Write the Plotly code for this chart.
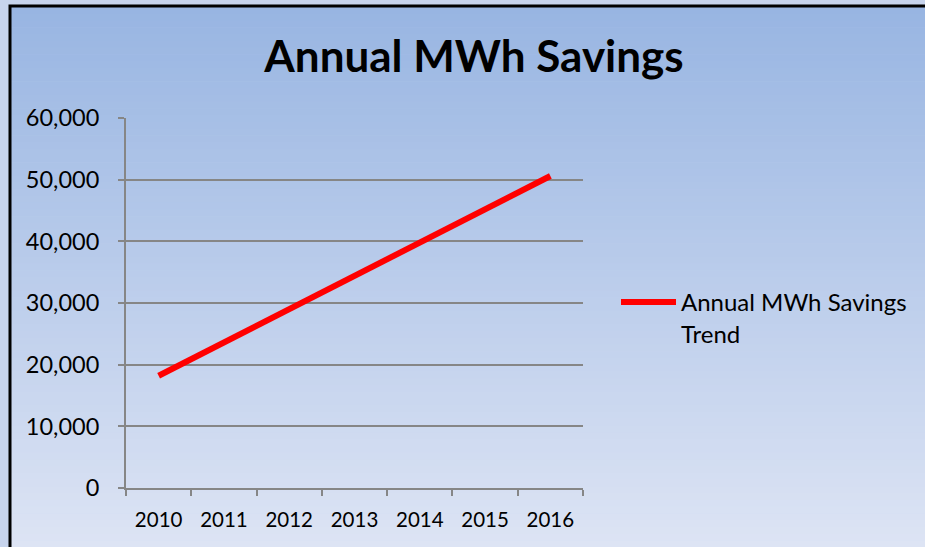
import plotly.graph_objects as go

years = ["2010", "2011", "2012", "2013", "2014", "2015", "2016"]
savings = [18200, 23600, 29000, 34400, 39800, 45200, 50600]
series_name = "Annual MWh Savings<br>Trend"
title_text = "Annual MWh Savings"

W, H = 925, 547
L, R, T, B = 126, 583, 118, 488
pw, ph = R - L, B - T

def px2x(px):
    return (px - L) / pw

def px2y(py):
    return (B - py) / ph

fig = go.Figure()
fig.add_trace(go.Scatter(
    x=years, y=savings, mode="lines", name=series_name,
    line=dict(color="#ff0000", width=6), showlegend=True,
))

# gradient background inside border
top_c = (152, 181, 226)
bot_c = (221, 228, 244)
shapes = []
n = 80
y0px, y1px = 7, H
for i in range(n):
    a = y0px + (y1px - y0px) * i / n
    b = y0px + (y1px - y0px) * (i + 1) / n + 0.6
    t = (i + 0.5) / n
    c = tuple(round(top_c[k] + (bot_c[k] - top_c[k]) * t) for k in range(3))
    shapes.append(dict(type="rect", xref="paper", yref="paper", layer="below",
                       x0=px2x(11), x1=px2x(W + 5), y0=px2y(b), y1=px2y(a),
                       fillcolor="rgb(%d,%d,%d)" % c, line=dict(width=0)))
# black border
shapes.append(dict(type="rect", xref="paper", yref="paper", layer="below",
                   x0=px2x(10), x1=px2x(W + 20), y0=px2y(H + 20), y1=px2y(6),
                   fillcolor="rgba(0,0,0,0)", line=dict(color="black", width=3)))

font = "Lato, 'Open Sans', sans-serif"
fig.update_layout(
    width=W, height=H,
    margin=dict(l=L, r=W - R, t=T, b=H - B),
    paper_bgcolor="#c7d4ed", plot_bgcolor="rgba(0,0,0,0)",
    font=dict(family=font, color="black", size=20),
    title=dict(text="<b>" + title_text + "</b>", x=474 / W, xanchor="center",
               y=1 - 57 / H, yanchor="middle", yref="container",
               font=dict(size=44, family=font, color="black")),
    shapes=shapes,
    showlegend=True,
    legend=dict(x=px2x(616), y=px2y(280), xanchor="left", yanchor="top",
                bgcolor="rgba(0,0,0,0)", font=dict(size=24, family=font),
                valign="top", itemwidth=55),
    xaxis=dict(type="category", range=[-0.5, 6.5], tickson="boundaries",
               ticks="outside", ticklen=6, tickcolor="#868686", tickwidth=1.5,
               showline=True, linecolor="#868686", linewidth=2,
               tickfont=dict(size=20.5), ticklabelstandoff=12,
               showgrid=False, zeroline=False, fixedrange=True),
    yaxis=dict(range=[0, 60000], dtick=10000, tickformat=",",
               ticks="outside", ticklen=6, tickcolor="#868686", tickwidth=1.5,
               showline=True, linecolor="#868686", linewidth=2,
               tickfont=dict(size=23.5), ticklabelstandoff=14,
               showgrid=True, gridcolor="#868686", gridwidth=1.5,
               zeroline=False, fixedrange=True),
)

fig.write_html("out.html", config={"displayModeBar": False},
               post_script="document.body.style.margin='0';document.body.style.overflow='hidden';")
